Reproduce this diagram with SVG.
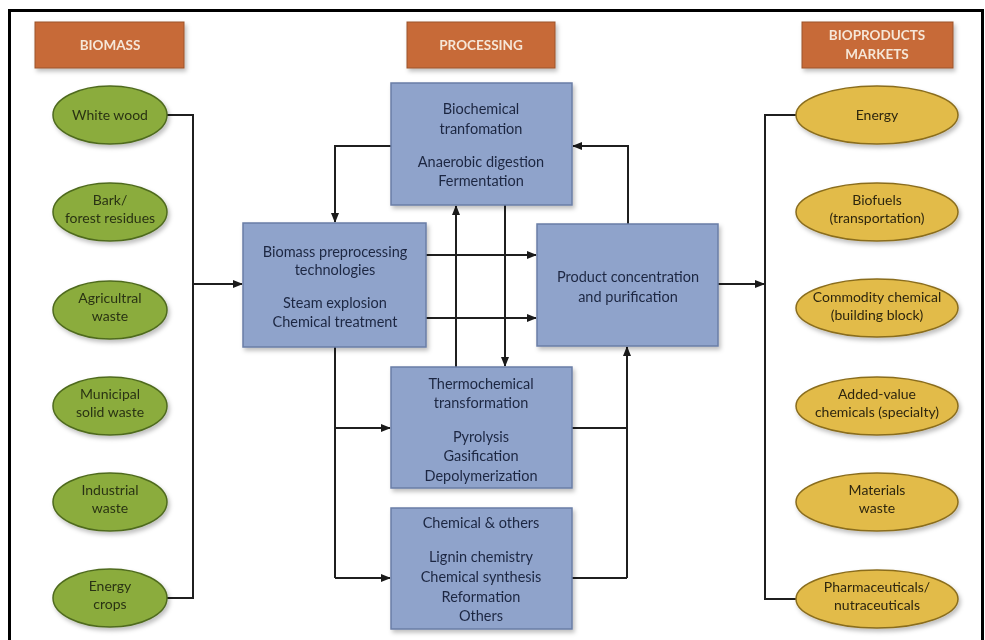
<svg xmlns="http://www.w3.org/2000/svg" width="985" height="640" viewBox="0 0 985 640">
<defs>
  <filter id="sh" x="-10%" y="-10%" width="125%" height="130%">
    <feDropShadow dx="2" dy="3" stdDeviation="2" flood-color="#000" flood-opacity="0.25"/>
  </filter>
  <marker id="ah" viewBox="0 0 10 10" refX="9" refY="5" markerWidth="10" markerHeight="10" markerUnits="userSpaceOnUse" orient="auto">
    <path d="M0,1 L10,5 L0,9 Z" fill="#1a1a1a"/>
  </marker>
  <style>
    text{font-family:Lato,"Open Sans","Liberation Sans",sans-serif;text-anchor:middle}
    .hdr rect{fill:#c76b38;stroke:#9c5229;stroke-width:1}
    .hdr text{fill:#f6e7d8;font-size:13.5px;font-weight:bold}
    .g ellipse{fill:#8bac3e;stroke:#4f6b1f;stroke-width:1.5}
    .g text{fill:#2a3312;font-size:14px}
    .y ellipse{fill:#e2bb48;stroke:#8a6d1e;stroke-width:1.5}
    .y text{fill:#2e2610;font-size:14px}
    .b rect{fill:#8fa3cb;stroke:#6a7ea6;stroke-width:1.5}
    .b text{fill:#1d2742;font-size:14.5px}
    .c path{fill:none;stroke:#1f1f1f;stroke-width:2}
    .c .a{marker-end:url(#ah)}
  </style>
</defs>
<rect x="0" y="0" width="985" height="640" fill="#fff"/>
<rect x="9.5" y="10.5" width="973" height="640" fill="none" stroke="#000" stroke-width="3"/>

<!-- headers -->
<g id="h-biomass" class="hdr" filter="url(#sh)"><rect x="35" y="22" width="149" height="46"/><text x="110" y="50">BIOMASS</text></g>
<g id="h-processing" class="hdr" filter="url(#sh)"><rect x="407" y="22" width="148" height="46"/><text x="481" y="50">PROCESSING</text></g>
<g id="h-markets" class="hdr" filter="url(#sh)"><rect x="802" y="22" width="151" height="46"/><text x="877" y="40">BIOPRODUCTS</text><text x="877" y="59">MARKETS</text></g>

<!-- connectors -->
<g id="connectors" class="c">
  <path d="M167,115 H193 V598 H167"/>
  <path class="a" d="M193,284 H242"/>
  <path class="a" d="M391,146 H335 V222"/>
  <path class="a" d="M628,224 V146 H573"/>
  <path class="a" d="M426,255 H536"/>
  <path class="a" d="M426,318 H536"/>
  <path class="a" d="M456,367 V206"/>
  <path class="a" d="M505,205 V366"/>
  <path d="M335,347 V578"/>
  <path class="a" d="M335,428 H390"/>
  <path class="a" d="M335,578 H390"/>
  <path d="M572,428 H627 M572,578 H627"/>
  <path class="a" d="M627,578 V347"/>
  <path class="a" d="M718,284 H764"/>
  <path d="M796,115 H765 V599 H796"/>
</g>

<!-- biomass -->
<g id="n-whitewood" class="g" filter="url(#sh)"><ellipse cx="110" cy="115" rx="57" ry="29"/><text x="110" y="120">White wood</text></g>
<g id="n-bark" class="g" filter="url(#sh)"><ellipse cx="110" cy="212" rx="57" ry="29"/><text x="110" y="205">Bark/</text><text x="110" y="223">forest residues</text></g>
<g id="n-agri" class="g" filter="url(#sh)"><ellipse cx="110" cy="310" rx="57" ry="29"/><text x="110" y="303">Agricultral</text><text x="110" y="321">waste</text></g>
<g id="n-municipal" class="g" filter="url(#sh)"><ellipse cx="110" cy="406" rx="57" ry="29"/><text x="110" y="399">Municipal</text><text x="110" y="417">solid waste</text></g>
<g id="n-industrial" class="g" filter="url(#sh)"><ellipse cx="110" cy="502" rx="57" ry="29"/><text x="110" y="495">Industrial</text><text x="110" y="513">waste</text></g>
<g id="n-energycrops" class="g" filter="url(#sh)"><ellipse cx="110" cy="598" rx="57" ry="29"/><text x="110" y="591">Energy</text><text x="110" y="609">crops</text></g>

<!-- processing -->
<g id="n-biochem" class="b" filter="url(#sh)"><rect x="391" y="83" width="181" height="122"/>
  <text x="481" y="114">Biochemical</text><text x="481" y="134">tranfomation</text>
  <text x="481" y="167">Anaerobic digestion</text><text x="481" y="186">Fermentation</text></g>
<g id="n-preproc" class="b" filter="url(#sh)"><rect x="243" y="223" width="183" height="124"/>
  <text x="335" y="257">Biomass preprocessing</text><text x="335" y="275">technologies</text>
  <text x="335" y="308">Steam explosion</text><text x="335" y="327">Chemical treatment</text></g>
<g id="n-product" class="b" filter="url(#sh)"><rect x="537" y="224" width="181" height="122"/>
  <text x="628" y="282">Product concentration</text><text x="628" y="302">and purification</text></g>
<g id="n-thermo" class="b" filter="url(#sh)"><rect x="391" y="367" width="181" height="121"/>
  <text x="481" y="389">Thermochemical</text><text x="481" y="408">transformation</text>
  <text x="481" y="442">Pyrolysis</text><text x="481" y="461">Gasification</text><text x="481" y="481">Depolymerization</text></g>
<g id="n-chemical" class="b" filter="url(#sh)"><rect x="391" y="508" width="181" height="121"/>
  <text x="481" y="528">Chemical &amp; others</text>
  <text x="481" y="562">Lignin chemistry</text><text x="481" y="582">Chemical synthesis</text><text x="481" y="602">Reformation</text><text x="481" y="621">Others</text></g>

<!-- markets -->
<g id="n-energy" class="y" filter="url(#sh)"><ellipse cx="877" cy="115" rx="81" ry="29"/><text x="877" y="120">Energy</text></g>
<g id="n-biofuels" class="y" filter="url(#sh)"><ellipse cx="877" cy="212" rx="81" ry="29"/><text x="877" y="205">Biofuels</text><text x="877" y="223">(transportation)</text></g>
<g id="n-commodity" class="y" filter="url(#sh)"><ellipse cx="877" cy="308" rx="81" ry="29"/><text x="877" y="302">Commodity chemical</text><text x="877" y="320">(building block)</text></g>
<g id="n-addedvalue" class="y" filter="url(#sh)"><ellipse cx="877" cy="406" rx="81" ry="29"/><text x="877" y="399">Added-value</text><text x="877" y="417">chemicals (specialty)</text></g>
<g id="n-materials" class="y" filter="url(#sh)"><ellipse cx="877" cy="502" rx="81" ry="29"/><text x="877" y="495">Materials</text><text x="877" y="513">waste</text></g>
<g id="n-pharma" class="y" filter="url(#sh)"><ellipse cx="877" cy="599" rx="81" ry="29"/><text x="877" y="592">Pharmaceuticals/</text><text x="877" y="610">nutraceuticals</text></g>
</svg>
